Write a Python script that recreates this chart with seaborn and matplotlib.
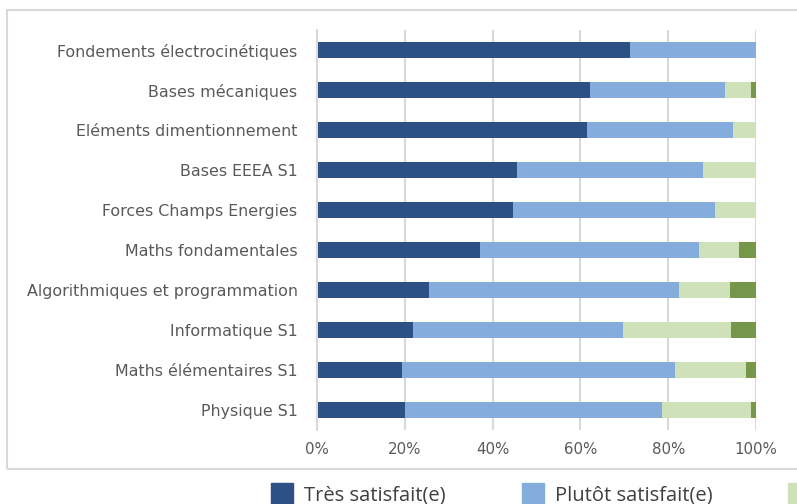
import numpy as np
import pandas as pd
import matplotlib.pyplot as plt
import matplotlib.patches as mpatches
import seaborn as sns

modules = [
    "Fondements électrocinétiques",
    "Bases mécaniques",
    "Eléments dimentionnement",
    "Bases EEEA S1",
    "Forces Champs Energies",
    "Maths fondamentales",
    "Algorithmiques et programmation",
    "Informatique S1",
    "Maths élémentaires S1",
    "Physique S1",
]
tres_satisfait = [71.4, 62.2, 61.5, 45.6, 44.7, 37.1, 25.4, 21.9, 19.4, 20.0]
plutot_satisfait = [28.6, 30.7, 33.3, 42.3, 46.0, 50.0, 57.1, 47.7, 62.1, 58.5]
peu_satisfait = [0.0, 6.0, 5.2, 12.1, 9.3, 9.1, 11.6, 24.6, 16.3, 20.4]
pas_satisfait = [0.0, 1.1, 0.0, 0.0, 0.0, 3.8, 5.9, 5.8, 2.2, 1.1]

series_names = ["Très satisfait(e)", "Plutôt satisfait(e)",
                "Peu satisfait(e)", "Pas du tout satisfait(e)"]
colors = ["#2E5185", "#84ADDD", "#CFE1B9", "#76974A"]

sns.set_theme(style="white")
plt.rcParams["font.family"] = ["DejaVu Sans"]

df = pd.DataFrame({
    "module": modules,
    "s1": tres_satisfait,
    "s2": plutot_satisfait,
    "s3": peu_satisfait,
    "s4": pas_satisfait,
})
# cumulative totals, drawn from the longest to the shortest
cols = ["s1", "s2", "s3", "s4"]
cum = df[cols].cumsum(axis=1)

fig = plt.figure(figsize=(7.97, 5.04), dpi=100)
ax = fig.add_axes([317 / 797, 1 - 430 / 504, 439 / 797, 400 / 504])

for col, color in reversed(list(zip(cols, colors))):
    sns.barplot(x=cum[col], y=df["module"], color=color, orient="h",
                width=0.4, linewidth=0, saturation=1, ax=ax)

ax.set_xlim(0, 100)
ax.set_xticks([0, 20, 40, 60, 80, 100])
ax.set_xticklabels([f"{v}%" for v in range(0, 101, 20)])
ax.set_xlabel("")
ax.set_ylabel("")
ax.grid(axis="x", color="#D9D9D9", linewidth=1.5)
ax.set_axisbelow(True)
for s in ["top", "right", "bottom"]:
    ax.spines[s].set_visible(False)
ax.spines["left"].set_color("#D9D9D9")
ax.spines["left"].set_linewidth(1.5)
ax.tick_params(axis="y", length=0, labelsize=11.4, colors="#595959", pad=14)
ax.tick_params(axis="x", length=0, labelsize=10.8, colors="#595959", pad=9)

# chart frame (extends beyond the crop on the right)
frame = mpatches.Rectangle((7 / 797, 1 - 469 / 504), 1.2, 459 / 504,
                           transform=fig.transFigure, fill=False,
                           edgecolor="#D9D9D9", linewidth=1.5, clip_on=False)
fig.add_artist(frame)

handles = [mpatches.Patch(color=c, label=n) for c, n in zip(colors, series_names)]
fig.legend(handles=handles, loc="center left", ncol=4,
           bbox_to_anchor=(253 / 797, 1 - 494 / 504), frameon=False,
           prop={"family": "Open Sans", "size": 14.5}, labelcolor="#404040",
           handlelength=1.1, handleheight=1.2, handletextpad=0.55,
           columnspacing=3.75)

fig.savefig("out.png", dpi=100)
